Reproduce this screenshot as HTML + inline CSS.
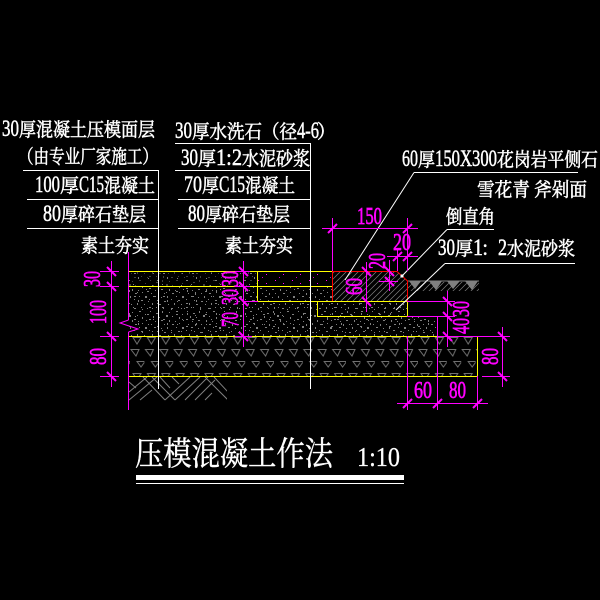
<!DOCTYPE html>
<html>
<head>
<meta charset="utf-8">
<style>
html,body{margin:0;padding:0;background:#000;width:600px;height:600px;overflow:hidden}
svg{display:block}
text{font-family:"Liberation Serif","Noto Serif CJK SC",serif}
.w{fill:#fff;font-size:19px;stroke:#fff;stroke-width:.55px}
.d{fill:#fff;font-size:23px;stroke:#fff;stroke-width:.5px}
.m{fill:#f0f;font-size:24px;stroke:#f0f;stroke-width:.7px}
</style>
</head>
<body>
<svg width="600" height="600" viewBox="0 0 600 600" xmlns="http://www.w3.org/2000/svg">
<defs>
<pattern id="sp" width="37" height="31" patternUnits="userSpaceOnUse">
<g fill="#808080">
<rect x="2" y="1" width="1" height="1"/><rect x="8" y="3" width="2" height="1"/><rect x="14" y="1" width="1" height="2"/><rect x="21" y="2" width="1" height="1"/><rect x="28" y="1" width="2" height="1"/><rect x="34" y="4" width="1" height="1"/>
<rect x="5" y="6" width="1" height="2"/><rect x="11" y="7" width="1" height="1"/><rect x="18" y="5" width="2" height="2"/><rect x="24" y="6" width="1" height="1"/><rect x="31" y="7" width="1" height="2"/><rect x="1" y="9" width="2" height="1"/>
<rect x="7" y="11" width="1" height="1"/><rect x="13" y="10" width="2" height="1"/><rect x="21" y="10" width="1" height="2"/><rect x="27" y="11" width="1" height="1"/><rect x="35" y="10" width="1" height="1"/><rect x="3" y="14" width="1" height="1"/>
<rect x="10" y="14" width="1" height="2"/><rect x="16" y="14" width="1" height="1"/><rect x="24" y="14" width="2" height="1"/><rect x="31" y="13" width="1" height="1"/><rect x="6" y="17" width="2" height="1"/><rect x="13" y="18" width="1" height="1"/>
<rect x="19" y="17" width="1" height="2"/><rect x="28" y="17" width="1" height="1"/><rect x="34" y="17" width="2" height="2"/><rect x="1" y="20" width="1" height="1"/><rect x="9" y="21" width="1" height="1"/><rect x="16" y="22" width="2" height="1"/>
<rect x="23" y="20" width="1" height="1"/><rect x="30" y="21" width="2" height="1"/><rect x="4" y="24" width="1" height="2"/><rect x="11" y="25" width="2" height="1"/><rect x="20" y="25" width="1" height="1"/><rect x="26" y="24" width="1" height="2"/>
<rect x="33" y="25" width="1" height="1"/><rect x="1" y="28" width="2" height="1"/><rect x="8" y="28" width="1" height="1"/><rect x="15" y="28" width="1" height="2"/><rect x="23" y="29" width="2" height="1"/><rect x="30" y="28" width="1" height="1"/><rect x="36" y="29" width="1" height="1"/>
</g>
</pattern>
<pattern id="sp2" width="29" height="23" patternUnits="userSpaceOnUse">
<g fill="#808080">
<rect x="3" y="2" width="1" height="1"/><rect x="12" y="4" width="2" height="1"/><rect x="22" y="1" width="1" height="2"/><rect x="7" y="9" width="1" height="1"/><rect x="17" y="8" width="1" height="1"/><rect x="26" y="10" width="1" height="1"/><rect x="2" y="15" width="2" height="1"/><rect x="13" y="14" width="1" height="2"/><rect x="21" y="16" width="1" height="1"/><rect x="8" y="20" width="1" height="1"/><rect x="18" y="20" width="2" height="1"/>
</g>
</pattern>
<pattern id="mg" width="17" height="9" patternUnits="userSpaceOnUse">
<rect x="3" y="1" width="1" height="1" fill="#f0f"/><rect x="11" y="4" width="1" height="1" fill="#f0f"/><rect x="7" y="7" width="1" height="1" fill="#c0c"/>
</pattern>
<pattern id="ha" width="6" height="6" patternUnits="userSpaceOnUse">
<path d="M0 6L6 0M-1 1L1 -1M5 7L7 5" stroke="#808080" stroke-width=".7" fill="none"/>
</pattern>
<pattern id="gr" width="14.4" height="36" patternUnits="userSpaceOnUse" x="130" y="336">
<g fill="none" stroke="#707070" stroke-width="1">
<path d="M3 1.5H11L7 8Z"/>
<path d="M1 13.5H9L6 20Z"/>
<path d="M7 25.5H15L11 31Z"/>
</g>
</pattern>
<clipPath id="soil"><rect x="129" y="377" width="98" height="24"/></clipPath>
</defs>
<rect width="600" height="600" fill="#000"/>

<!-- fills -->
<polygon points="129,286 258,286 258,301 317,301 317,316 437,316 437,336 129,336" fill="url(#sp)"/>
<polygon points="129,286 258,286 258,301 317,301 317,316 437,316 437,336 129,336" fill="url(#sp2)"/>
<rect x="129" y="271" width="129" height="15" fill="url(#sp2)"/>
<rect x="129" y="271" width="129" height="15" fill="url(#sp)" opacity=".5"/>
<rect x="258" y="286" width="75" height="15" fill="url(#sp)"/>
<rect x="258" y="272" width="75" height="14" fill="url(#mg)"/>
<rect x="318" y="302" width="89" height="14" fill="url(#sp2)"/>
<rect x="318" y="302" width="89" height="14" fill="url(#sp)"/>
<polygon points="333,271 397,271 407,281 407,301 333,301" fill="url(#ha)"/>
<rect x="408" y="282" width="71" height="9" fill="url(#ha)"/>
<rect x="129" y="336" width="348" height="41" fill="url(#gr)"/>
<path d="M408 281H479" stroke="#808080" stroke-width="1"/>
<path d="M409 281H421L415 289ZM429 281H442L436 290ZM447 281H460L453 289ZM465 281H478L472 290Z" fill="#808080"/>

<!-- soil -->
<g clip-path="url(#soil)" stroke="#808080" stroke-width="1" fill="none">
<path d="M129 392L147 377M129 400L157 377M140 400L152 390M129 382L136 388M143 377L165 400M152 377L175 400M160 377L170 388"/>
<path d="M165 400L190 377M175 400L200 377M185 400L208 377M172 377L179 384M195 400L215 380M205 377L228 400M214 377L228 392M205 400L212 393"/>
</g>

<!-- structure -->
<g fill="none" stroke="#ff0" stroke-width="1" shape-rendering="crispEdges">
<path d="M129 271.5H333M129 286.5H333M257.5 271V301.5H333M333 301.5H407.5V316.5H317.5V301.5M437.5 316V336.5M129 336.5H437M477.5 336V376.5M129 376.5H477M407 316.5H437"/>
</g>
<path d="M332.5 301V271.5H397L407.5 281V301" fill="none" stroke="#f00" stroke-width="1"/>

<!-- table and leader lines -->
<g fill="none" stroke="#fff" stroke-width="1" shape-rendering="crispEdges">
<path d="M23 170.5H158.5V389M27 199.5H158M27 228.5H158"/>
<path d="M175 143.5H310.5V389M175 170.5H310M178 199.5H310M178 228.5H310"/>
<path d="M414 172.5H578M447 229.5H494M445 263.5H575"/>
</g>
<g fill="none" stroke="#fff" stroke-width="1">
<path d="M414 172.5L345 280M447 229.5L402 276M445 263.5L396 310"/>
</g>
<circle cx="402" cy="276" r="1.6" fill="#fff"/>

<!-- magenta dims -->
<g fill="none" stroke="#f0f" stroke-width="1">
<g shape-rendering="crispEdges">
<path d="M128.5 252V320M128.5 332V410"/>
<path d="M111.5 261V387M100 271.5H119M100 286.5H119M100 336.5H119M100 376.5H119"/>
<path d="M243.5 261V347M235 271.5H250M235 286.5H250M243 301.5H258M235 336.5H252"/>
<path d="M447.5 291V347M407 301.5H455M407 316.5H455M437 336.5H510"/>
<path d="M502.5 327V387M482 376.5H510"/>
<path d="M397 403.5H488M407.5 336V410M437.5 316V410M477.5 376V410"/>
<path d="M322 228.5H418M332.5 218V271M407.5 218V271"/>
<path d="M387 256.5H418M397.5 250V271"/>
<path d="M366.5 262V312M389.5 260V291M379 281.5H398"/>
</g>
<path d="M128.5 320L120 323L129 326L138 329L128.5 332"/>
</g>
<g fill="none" stroke="#f0f" stroke-width="2">
<path d="M107 267L116 276M107 282L116 291M107 332L116 341M107 372L116 381"/>
<path d="M239 267L248 276M239 282L248 291M239 297L248 306M239 332L248 341"/>
<path d="M443 297L452 306M443 312L452 321M443 332L452 341"/>
<path d="M498 332L507 341M498 372L507 381"/>
<path d="M403 408L412 399M433 408L442 399M473 408L482 399"/>
<path d="M328 233L337 224M403 233L412 224"/>
<path d="M393 261L402 252M403 261L412 252"/>
<path d="M362 267L371 276M362 297L371 306M385 267L394 276M385 277L394 286"/>
</g>

<!-- magenta text -->
<g>
<text class="m" x="357" y="224" textLength="25" lengthAdjust="spacingAndGlyphs">150</text>
<text class="m" x="393" y="250" textLength="18" lengthAdjust="spacingAndGlyphs">20</text>
<text class="m" x="414" y="398" textLength="18" lengthAdjust="spacingAndGlyphs">60</text>
<text class="m" x="449" y="398" textLength="17" lengthAdjust="spacingAndGlyphs">80</text>
<text class="m" transform="translate(100 287) rotate(-90)" textLength="16" lengthAdjust="spacingAndGlyphs">30</text>
<text class="m" transform="translate(106 324) rotate(-90)" textLength="24" lengthAdjust="spacingAndGlyphs">100</text>
<text class="m" transform="translate(106 365) rotate(-90)" textLength="17" lengthAdjust="spacingAndGlyphs">80</text>
<text class="m" transform="translate(238 287) rotate(-90)" textLength="16" lengthAdjust="spacingAndGlyphs">30</text>
<text class="m" transform="translate(238 305) rotate(-90)" textLength="16" lengthAdjust="spacingAndGlyphs">30</text>
<text class="m" transform="translate(238 327) rotate(-90)" textLength="15" lengthAdjust="spacingAndGlyphs">70</text>
<text class="m" transform="translate(469 317) rotate(-90)" textLength="16" lengthAdjust="spacingAndGlyphs">30</text>
<text class="m" transform="translate(469 334) rotate(-90)" textLength="16" lengthAdjust="spacingAndGlyphs">40</text>
<text class="m" transform="translate(498 365) rotate(-90)" textLength="17" lengthAdjust="spacingAndGlyphs">80</text>
<text class="m" transform="translate(362 295) rotate(-90)" textLength="17" lengthAdjust="spacingAndGlyphs">60</text>
<text class="m" transform="translate(385 269) rotate(-90)" textLength="16" lengthAdjust="spacingAndGlyphs">20</text>
</g>

<!-- white labels: left column -->
<text class="d" x="2" y="136" textLength="17" lengthAdjust="spacingAndGlyphs">30</text>
<text class="w" x="19" y="136" textLength="136" lengthAdjust="spacingAndGlyphs">厚混凝土压模面层</text>
<text class="w" x="18" y="163" textLength="140" lengthAdjust="spacingAndGlyphs">（由专业厂家施工）</text>
<text class="d" x="35" y="192" textLength="25" lengthAdjust="spacingAndGlyphs">100</text>
<text class="w" x="60" y="192" textLength="19" lengthAdjust="spacingAndGlyphs">厚</text>
<text class="d" x="79" y="192" textLength="25" lengthAdjust="spacingAndGlyphs">C15</text>
<text class="w" x="104" y="192" textLength="51" lengthAdjust="spacingAndGlyphs">混凝土</text>
<text class="d" x="43" y="221" textLength="18" lengthAdjust="spacingAndGlyphs">80</text>
<text class="w" x="61" y="221" textLength="85" lengthAdjust="spacingAndGlyphs">厚碎石垫层</text>
<text class="w" x="81" y="252" textLength="68" lengthAdjust="spacingAndGlyphs">素土夯实</text>

<!-- white labels: middle column -->
<text class="d" x="175" y="138" textLength="17" lengthAdjust="spacingAndGlyphs">30</text>
<text class="w" x="192" y="138" textLength="105" lengthAdjust="spacingAndGlyphs">厚水洗石（径</text>
<text class="d" x="297" y="138" textLength="22" lengthAdjust="spacingAndGlyphs">4-6</text>
<text class="w" x="317" y="138" textLength="19" lengthAdjust="spacingAndGlyphs">）</text>
<text class="d" x="181" y="165" textLength="17" lengthAdjust="spacingAndGlyphs">30</text>
<text class="w" x="198" y="165" textLength="18" lengthAdjust="spacingAndGlyphs">厚</text>
<text class="d" x="216" y="165" textLength="26" lengthAdjust="spacingAndGlyphs">1:2</text>
<text class="w" x="242" y="165" textLength="68" lengthAdjust="spacingAndGlyphs">水泥砂浆</text>
<text class="d" x="184" y="192" textLength="18" lengthAdjust="spacingAndGlyphs">70</text>
<text class="w" x="202" y="192" textLength="17" lengthAdjust="spacingAndGlyphs">厚</text>
<text class="d" x="219" y="192" textLength="26" lengthAdjust="spacingAndGlyphs">C15</text>
<text class="w" x="245" y="192" textLength="50" lengthAdjust="spacingAndGlyphs">混凝土</text>
<text class="d" x="188" y="221" textLength="17" lengthAdjust="spacingAndGlyphs">80</text>
<text class="w" x="205" y="221" textLength="85" lengthAdjust="spacingAndGlyphs">厚碎石垫层</text>
<text class="w" x="225" y="252" textLength="68" lengthAdjust="spacingAndGlyphs">素土夯实</text>

<!-- white labels: right column -->
<text class="d" x="402" y="166" textLength="16" lengthAdjust="spacingAndGlyphs">60</text>
<text class="w" x="418" y="166" textLength="17" lengthAdjust="spacingAndGlyphs">厚</text>
<text class="d" x="435" y="166" textLength="62" lengthAdjust="spacingAndGlyphs">150X300</text>
<text class="w" x="497" y="166" textLength="101" lengthAdjust="spacingAndGlyphs">花岗岩平侧石</text>
<text class="w" x="477" y="196" textLength="110" lengthAdjust="spacingAndGlyphs">雪花青 斧剁面</text>
<text class="w" x="446" y="223" textLength="49" lengthAdjust="spacingAndGlyphs">倒直角</text>
<text class="d" x="438" y="255" textLength="17" lengthAdjust="spacingAndGlyphs">30</text>
<text class="w" x="455" y="255" textLength="18" lengthAdjust="spacingAndGlyphs">厚</text>
<text class="d" x="473" y="255" textLength="10" lengthAdjust="spacingAndGlyphs">1</text>
<text class="w" x="481" y="255" textLength="18" lengthAdjust="spacingAndGlyphs">：</text>
<text class="d" x="498" y="255" textLength="9" lengthAdjust="spacingAndGlyphs">2</text>
<text class="w" x="507" y="255" textLength="68" lengthAdjust="spacingAndGlyphs">水泥砂浆</text>

<!-- title -->
<text x="135" y="465" textLength="198" lengthAdjust="spacingAndGlyphs" style="font-size:33px;stroke:#fff;stroke-width:.4px" fill="#fff">压模混凝土作法</text>
<text x="357" y="466" textLength="43" lengthAdjust="spacingAndGlyphs" style="font-size:27px;stroke:#fff;stroke-width:.3px" fill="#fff">1:10</text>
<rect x="136" y="475" width="268" height="5" fill="#fff"/>
<rect x="136" y="483" width="268" height="1" fill="#fff"/>
</svg>
</body>
</html>
